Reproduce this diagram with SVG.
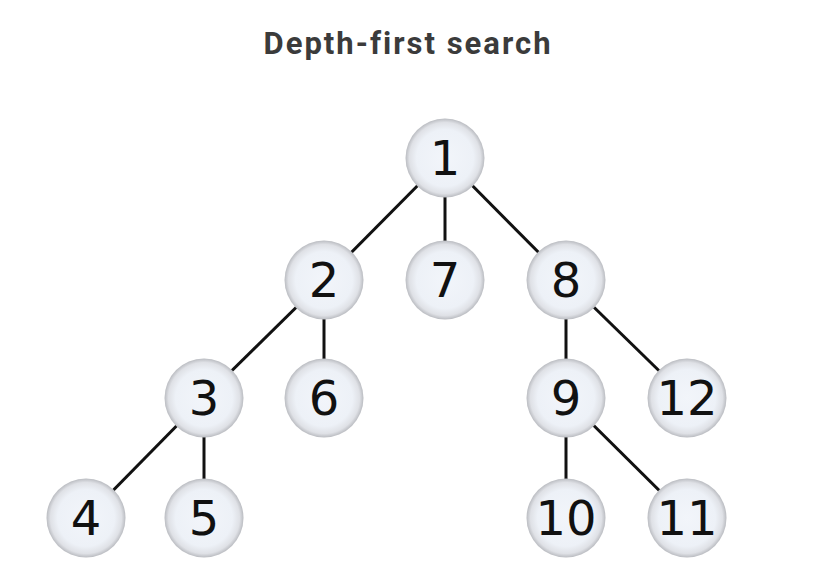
<svg xmlns="http://www.w3.org/2000/svg" width="830" height="576" viewBox="0 0 830 576">
<defs>
<radialGradient id="ng" cx="50%" cy="50%" r="50%">
<stop offset="0" stop-color="#f2f5fa"/>
<stop offset="0.72" stop-color="#edf1f7"/>
<stop offset="0.9" stop-color="#dfe1e6"/>
<stop offset="1" stop-color="#babcc1"/>
</radialGradient>
<style>
.n circle{fill:url(#ng);}
.n text{font-family:"DejaVu Sans",sans-serif;font-size:48px;fill:#111;text-anchor:middle;}
.e line{stroke:#111;stroke-width:3;}
.t{font-family:Roboto,"Liberation Sans",sans-serif;font-size:31px;font-weight:700;fill:#3b3b3b;text-anchor:middle;letter-spacing:2px;}
</style>
</defs>
<rect width="830" height="576" fill="#ffffff"/>
<text class="t" x="408" y="54">Depth-first search</text>
<g id="edges" class="e">
<line x1="445" y1="158" x2="324" y2="280"/>
<line x1="445" y1="158" x2="445" y2="280"/>
<line x1="445" y1="158" x2="566" y2="280"/>
<line x1="324" y1="280" x2="204" y2="398"/>
<line x1="324" y1="280" x2="324" y2="398"/>
<line x1="204" y1="398" x2="86" y2="518"/>
<line x1="204" y1="398" x2="204" y2="518"/>
<line x1="566" y1="280" x2="566" y2="398"/>
<line x1="566" y1="280" x2="687" y2="398"/>
<line x1="566" y1="398" x2="566" y2="518"/>
<line x1="566" y1="398" x2="687" y2="518"/>
</g>
<g id="n1" class="n"><circle cx="445" cy="158" r="39.5"/><text x="445" y="175">1</text></g>
<g id="n2" class="n"><circle cx="324" cy="280" r="39.5"/><text x="324" y="297">2</text></g>
<g id="n7" class="n"><circle cx="445" cy="280" r="39.5"/><text x="445" y="297">7</text></g>
<g id="n8" class="n"><circle cx="566" cy="280" r="39.5"/><text x="566" y="297">8</text></g>
<g id="n3" class="n"><circle cx="204" cy="398" r="39.5"/><text x="204" y="415">3</text></g>
<g id="n6" class="n"><circle cx="324" cy="398" r="39.5"/><text x="324" y="415">6</text></g>
<g id="n9" class="n"><circle cx="566" cy="398" r="39.5"/><text x="566" y="415">9</text></g>
<g id="n12" class="n"><circle cx="687" cy="398" r="39.5"/><text x="687" y="415">12</text></g>
<g id="n4" class="n"><circle cx="86" cy="518" r="39.5"/><text x="86" y="535">4</text></g>
<g id="n5" class="n"><circle cx="204" cy="518" r="39.5"/><text x="204" y="535">5</text></g>
<g id="n10" class="n"><circle cx="566" cy="518" r="39.5"/><text x="566" y="535">10</text></g>
<g id="n11" class="n"><circle cx="687" cy="518" r="39.5"/><text x="687" y="535">11</text></g>
</svg>
